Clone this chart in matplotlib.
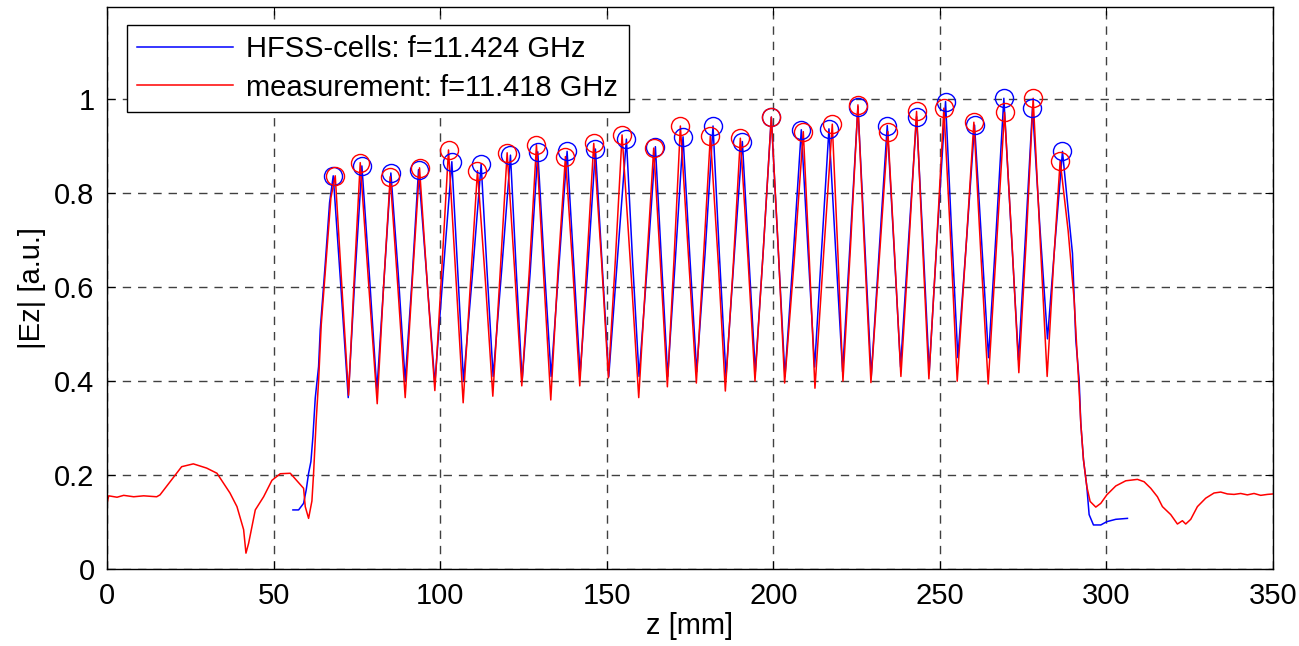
import numpy as np
import matplotlib.pyplot as plt

# HFSS-cells: f=11.424 GHz  (z [mm], |Ez| [a.u.])
hfss_z = [55.8, 57.5, 59.0, 59.8, 60.5, 61.2, 61.8, 62.5, 63.5, 64.0, 65.5, 66.8,
          67.9, 70.2, 72.4, 74.4, 76.5, 78.8, 81.0, 83.0, 85.2, 87.4, 89.5, 91.5,
          93.5, 96.0, 98.4, 101.0, 103.5, 105.3, 107.0, 109.6, 112.3, 114.1, 115.9, 118.5,
          121.1, 122.8, 124.6, 127.0, 129.3, 131.3, 133.3, 135.7, 138.1, 140.0, 142.0, 144.3,
          146.6, 148.6, 150.6, 153.2, 155.9, 157.8, 159.7, 162.1, 164.6, 166.4, 168.3, 170.6,
          172.9, 174.9, 177.0, 179.5, 181.9, 183.8, 185.8, 188.2, 190.7, 192.6, 194.6, 197.0,
          199.4, 201.4, 203.5, 206.0, 208.4, 210.4, 212.4, 214.5, 216.7, 218.7, 220.8, 223.1,
          225.4, 227.4, 229.4, 231.8, 234.2, 236.2, 238.2, 240.6, 243.0, 244.9, 246.8, 249.2,
          251.7, 253.5, 255.4, 258.0, 260.4, 262.5, 264.6, 266.9, 269.2, 271.4, 273.6, 275.7,
          277.8, 280.0, 282.3, 284.5, 286.8, 288.8, 289.8, 290.8, 291.8, 292.3, 293.1, 294.1,
          294.8, 296.1, 298.3, 300.1, 302.8, 306.3]
hfss_ez = [0.126, 0.126, 0.140, 0.169, 0.204, 0.229, 0.282, 0.364, 0.431, 0.510, 0.650, 0.780,
           0.837, 0.600, 0.365, 0.620, 0.858, 0.620, 0.380, 0.600, 0.843, 0.630, 0.400, 0.610,
           0.850, 0.620, 0.395, 0.640, 0.867, 0.630, 0.400, 0.620, 0.862, 0.630, 0.410, 0.640,
           0.881, 0.640, 0.400, 0.630, 0.888, 0.640, 0.410, 0.650, 0.889, 0.660, 0.415, 0.640,
           0.894, 0.650, 0.410, 0.660, 0.915, 0.650, 0.410, 0.640, 0.899, 0.660, 0.410, 0.660,
           0.920, 0.670, 0.420, 0.670, 0.943, 0.670, 0.410, 0.660, 0.910, 0.670, 0.420, 0.680,
           0.962, 0.690, 0.410, 0.670, 0.935, 0.680, 0.430, 0.680, 0.937, 0.680, 0.420, 0.700,
           0.984, 0.700, 0.410, 0.680, 0.944, 0.690, 0.430, 0.700, 0.963, 0.700, 0.420, 0.710,
           0.995, 0.720, 0.450, 0.700, 0.945, 0.700, 0.450, 0.720, 1.002, 0.720, 0.445, 0.710,
           0.982, 0.730, 0.490, 0.690, 0.889, 0.743, 0.672, 0.488, 0.403, 0.310, 0.233, 0.176,
           0.116, 0.094, 0.094, 0.101, 0.106, 0.108]

# measurement: f=11.418 GHz
meas_z = [0.0, 0.5, 3.0, 5.0, 8.0, 11.0, 14.9, 15.9, 22.4, 25.9, 29.9, 33.0,
          36.9, 39.0, 41.0, 41.7, 42.5, 43.5, 44.5, 47.0, 49.5, 52.0, 55.0, 59.0,
          59.5, 60.5, 61.5, 62.0, 62.8, 63.5, 64.3, 65.8, 67.2,
          68.5, 70.5, 72.5, 74.2, 76.0, 78.6, 81.1, 83.0, 85.0, 87.3, 89.5, 91.7,
          93.8, 96.1, 98.4, 100.5, 102.5, 104.8, 106.9, 109.1, 111.2, 113.6, 115.8, 118.0,
          120.1, 122.4, 124.5, 126.8, 128.9, 131.1, 133.2, 135.4, 137.6, 139.8, 141.9, 144.0,
          146.1, 148.4, 150.5, 152.6, 154.6, 157.2, 159.6, 161.9, 164.1, 166.2, 168.2, 170.2,
          172.1, 174.6, 176.9, 179.0, 181.1, 183.5, 185.6, 188.0, 190.1, 192.4, 194.5, 197.0,
          199.4, 201.5, 203.4, 206.3, 209.0, 210.8, 212.5, 215.1, 217.7, 219.4, 220.9, 223.2,
          225.4, 227.3, 229.3, 231.9, 234.4, 236.4, 238.3, 240.7, 243.0, 244.8, 246.7, 249.0,
          251.2, 253.3, 255.2, 257.8, 260.2, 262.3, 264.5, 267.0, 269.4, 271.6, 273.7, 276.0,
          278.0, 280.1, 282.2, 284.2, 286.1, 288.5, 290.3, 291.8, 292.3, 293.1, 294.1, 295.1,
          296.8, 298.3, 300.1, 302.8, 305.8, 309.3, 311.3, 313.3, 315.3, 316.8, 319.3, 321.3,
          322.8, 323.8, 325.3, 327.3, 329.8, 332.3, 334.3, 336.3, 338.3, 340.3, 342.3, 344.3,
          346.3, 348.3, 350.0]
meas_ez = [0.140, 0.156, 0.153, 0.157, 0.154, 0.156, 0.154, 0.158, 0.218, 0.224, 0.215, 0.204,
           0.162, 0.133, 0.084, 0.034, 0.055, 0.091, 0.126, 0.154, 0.189, 0.203, 0.204, 0.172,
           0.133, 0.108, 0.145, 0.204, 0.318, 0.400, 0.520, 0.660, 0.790,
           0.837, 0.600, 0.370, 0.620, 0.865, 0.600, 0.352, 0.600, 0.835, 0.600, 0.365, 0.620,
           0.854, 0.610, 0.380, 0.640, 0.892, 0.610, 0.354, 0.610, 0.848, 0.610, 0.368, 0.630,
           0.886, 0.630, 0.390, 0.640, 0.903, 0.620, 0.360, 0.640, 0.878, 0.640, 0.390, 0.650,
           0.906, 0.660, 0.407, 0.660, 0.924, 0.640, 0.365, 0.640, 0.896, 0.640, 0.388, 0.660,
           0.943, 0.660, 0.396, 0.660, 0.922, 0.650, 0.379, 0.650, 0.917, 0.660, 0.400, 0.680,
           0.962, 0.680, 0.396, 0.660, 0.931, 0.660, 0.385, 0.670, 0.947, 0.670, 0.400, 0.690,
           0.988, 0.690, 0.397, 0.670, 0.931, 0.670, 0.410, 0.690, 0.974, 0.690, 0.405, 0.690,
           0.981, 0.690, 0.400, 0.680, 0.951, 0.670, 0.394, 0.690, 0.972, 0.700, 0.418, 0.710,
           1.002, 0.700, 0.410, 0.660, 0.869, 0.720, 0.573, 0.380, 0.310, 0.233, 0.176, 0.144,
           0.132, 0.140, 0.158, 0.177, 0.188, 0.191, 0.186, 0.172, 0.154, 0.133, 0.116, 0.096,
           0.103, 0.096, 0.106, 0.133, 0.151, 0.162, 0.164, 0.160, 0.159, 0.161, 0.158, 0.161,
           0.157, 0.159, 0.160]

# peak maxima marked with circles
hfss_pk_z = [67.9, 76.5, 85.2, 93.5, 103.5, 112.3, 121.1, 129.3, 138.1, 146.6, 155.9, 164.6, 172.9,
             181.9, 190.7, 199.4, 208.4, 216.7, 225.4, 234.2, 243.0, 251.7, 260.4, 269.2, 277.8, 286.8]
hfss_pk = [0.837, 0.858, 0.843, 0.850, 0.867, 0.862, 0.881, 0.888, 0.889, 0.894, 0.915, 0.899, 0.920,
           0.943, 0.910, 0.962, 0.935, 0.937, 0.984, 0.944, 0.963, 0.995, 0.945, 1.002, 0.982, 0.889]
meas_pk_z = [68.5, 76.0, 85.0, 93.8, 102.5, 111.2, 120.1, 128.9, 137.6, 146.1, 154.6, 164.1, 172.1,
             181.1, 190.1, 199.4, 209.0, 217.7, 225.4, 234.4, 243.0, 251.2, 260.2, 269.4, 278.0, 286.1]
meas_pk = [0.837, 0.865, 0.835, 0.854, 0.892, 0.848, 0.886, 0.903, 0.878, 0.906, 0.924, 0.896, 0.943,
           0.922, 0.917, 0.962, 0.931, 0.947, 0.988, 0.931, 0.974, 0.981, 0.951, 0.972, 1.002, 0.869]

plt.rcParams['font.family'] = ['Liberation Sans', 'DejaVu Sans']
plt.rcParams['font.size'] = 21

fig = plt.figure(figsize=(12.99, 6.46), dpi=100)
ax = fig.add_axes([0.0824, 0.119, 0.8976, 0.870])

ax.plot(hfss_z, hfss_ez, color='#0000ff', lw=1.1, label='HFSS-cells: f=11.424 GHz')
ax.plot(meas_z, meas_ez, color='#ff0000', lw=1.1, label='measurement: f=11.418 GHz')
ax.plot(hfss_pk_z, hfss_pk, 'o', mfc='none', mec='#0000ff', ms=13, mew=1.0)
ax.plot(meas_pk_z, meas_pk, 'o', mfc='none', mec='#ff0000', ms=13, mew=1.0)

ax.set_xlim(0, 350)
ax.set_ylim(0, 1.196)
ax.set_xticks(np.arange(0, 351, 50))
ax.set_yticks([0, 0.2, 0.4, 0.6, 0.8, 1])
ax.set_yticklabels(['0', '0.2', '0.4', '0.6', '0.8', '1'])
ax.grid(True, color='0.25', ls=(0, (6, 5)), lw=1.0)
ax.tick_params(direction='in', top=True, right=True, length=6, width=0.8, pad=9)
for s in ax.spines.values():
    s.set_linewidth(1.0)

ax.set_xlabel('z [mm]', labelpad=2)
ax.set_ylabel('|Ez| [a.u.]', labelpad=6)

leg = ax.legend(loc='upper left', bbox_to_anchor=(0.017, 0.968), borderaxespad=0,
                fancybox=False, edgecolor='black', framealpha=1, handlelength=3.3,
                handletextpad=0.45, labelspacing=0.35, borderpad=0.35)
leg.get_frame().set_linewidth(1.0)

fig.savefig('out.png', dpi=100)
